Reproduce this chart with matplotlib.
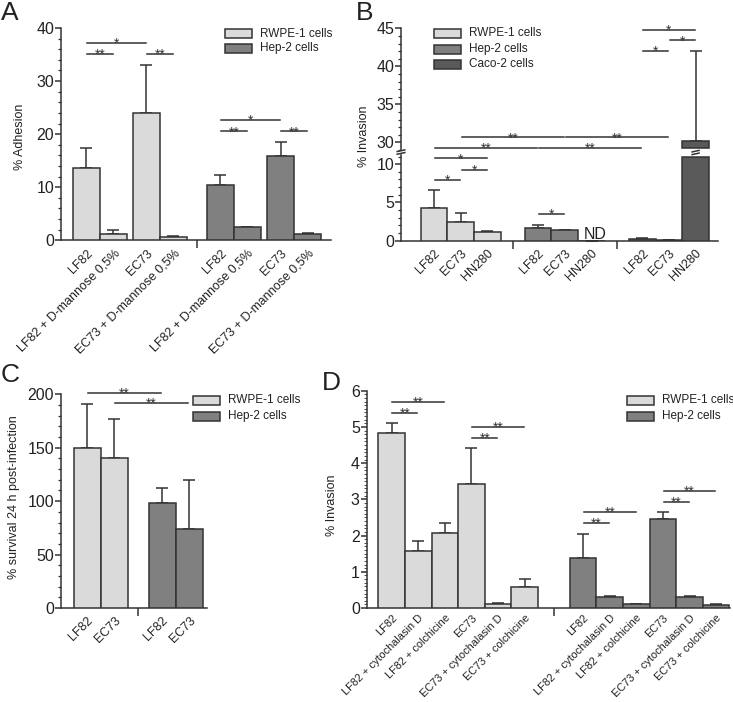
import numpy as np
import matplotlib
matplotlib.use('Agg')
import matplotlib.pyplot as plt
from matplotlib.patches import Rectangle
from matplotlib.ticker import MultipleLocator

plt.rcParams['font.family'] = ['Liberation Sans', 'DejaVu Sans']

W, H = 733, 702
LIGHT = '#dadada'
MID = '#808080'
DARK = '#5a5a5a'
INK = '#333333'

# ---- panel A : % adhesion
a_labels = ['LF82', 'LF82 + D-mannose 0,5%', 'EC73', 'EC73 + D-mannose 0,5%']
a_rwpe = [13.6, 1.1, 23.9, 0.7]
a_rwpe_sd = [3.8, 0.9, 9.1, 0.1]
a_hep = [10.4, 2.5, 15.9, 1.2]
a_hep_sd = [1.9, 0.1, 2.7, 0.1]
a_sig = [(0, 1, 35.1, '**'), (0, 2, 37.1, '*'), (2, 3, 35.1, '**'),
         (4, 5, 20.5, '**'), (4, 6, 22.6, '*'), (6, 7, 20.5, '**')]

# ---- panel B : % invasion (broken axis)
b_labels = ['LF82', 'EC73', 'HN280']
b_rwpe = [4.3, 2.4, 1.1]
b_rwpe_sd = [2.3, 1.2, 0.15]
b_hep = [1.7, 1.35, np.nan]
b_hep_sd = [0.4, 0.1, 0.0]
b_caco = [0.25, 0.12, 30.2]
b_caco_sd = [0.05, 0.0, 11.8]
b_sig_lo = [(0, 1, 7.95, '*'), (1, 2, 9.3, '*'), (0, 2, 10.75, '*'), (3, 4, 3.55, '*')]
b_sig_hi = [(0, 3, 29.27, '**'), (3, 6, 29.27, '**'), (1, 4, 30.65, '**'), (4, 7, 30.65, '**'),
            (6, 7, 42.0, '*'), (7, 8, 43.4, '*'), (6, 8, 44.8, '*')]

# ---- panel C : survival
c_labels = ['LF82', 'EC73']
c_rwpe = [150, 140]
c_rwpe_sd = [41, 37]
c_hep = [98, 74]
c_hep_sd = [14, 46]
c_sig = [(0, 2, 201.6, '**'), (1, 3, 191.6, '**')]

# ---- panel D : % invasion with inhibitors
d_labels = ['LF82', 'LF82 + cytochalasin D', 'LF82 + colchicine',
            'EC73', 'EC73 + cytochalasin D', 'EC73 + colchicine']
d_rwpe = [4.83, 1.57, 2.06, 3.43, 0.1, 0.59]
d_rwpe_sd = [0.28, 0.29, 0.29, 0.98, 0.03, 0.2]
d_hep = [1.38, 0.3, 0.1, 2.45, 0.3, 0.09]
d_hep_sd = [0.67, 0.04, 0.02, 0.19, 0.03, 0.01]
d_sig = [(0, 1, 5.39, '**'), (0, 2, 5.69, '**'), (3, 4, 4.69, '**'), (3, 5, 4.99, '**'),
         (6, 7, 2.35, '**'), (6, 8, 2.64, '**'), (9, 10, 2.94, '**'), (9, 11, 3.24, '**')]

fig = plt.figure(figsize=(W / 100, H / 100), dpi=100)


def px_axes(x0, y0, x1, y1):
    # axes placed by pixel box (top-left origin)
    return fig.add_axes([x0 / W, 1 - y1 / H, (x1 - x0) / W, (y1 - y0) / H])


def style(ax, xlim, ylim, major, minor, pos=None, labels=None, divs=(), bottom=True, xfs=9, xpad=5):
    ax.set_xlim(*xlim)
    ax.set_ylim(*ylim)
    ax.patch.set_alpha(0)
    for s in ['top', 'right']:
        ax.spines[s].set_visible(False)
    for s in ['left', 'bottom']:
        ax.spines[s].set_linewidth(1.1)
        ax.spines[s].set_color(INK)
    ax.yaxis.set_major_locator(MultipleLocator(major))
    ax.yaxis.set_minor_locator(MultipleLocator(minor))
    ax.tick_params(axis='y', which='major', length=4, width=1.1, color=INK, labelsize=11.5,
                   pad=1, labelcolor='#222222')
    ax.tick_params(axis='y', which='minor', length=2.4, width=0.9, color=INK)
    if bottom:
        ax.set_xticks(pos)
        ax.set_xticklabels(labels, rotation=45, ha='right', rotation_mode='anchor', fontsize=xfs,
                           color='#222222')
        ax.tick_params(axis='x', which='major', length=0, pad=xpad)
        ax.set_xticks(divs, minor=True)
        ax.tick_params(axis='x', which='minor', length=5.5, width=1.1, color=INK)
    else:
        ax.spines['bottom'].set_visible(False)
        ax.set_xticks([])


def bars(ax, pos, vals, sds, color):
    ax.bar(pos, vals, width=1.0, color=color, edgecolor=INK, linewidth=1.1, zorder=3)
    ax.errorbar(pos, vals, yerr=[np.zeros(len(vals)), sds], fmt='none', ecolor=INK,
                elinewidth=1.1, capsize=4.2, capthick=1.1, zorder=2)


def sig(ax, pos, items):
    for i, j, y, t in items:
        ax.plot([pos[i] + 0.03, pos[j] - 0.03], [y, y], color=INK, lw=1.1, clip_on=False, zorder=4)
        ax.annotate(t, ((pos[i] + pos[j]) / 2, y), xytext=(0, -3.5), textcoords='offset points',
                    ha='center', va='baseline', fontsize=10, color=INK, annotation_clip=False)


def legend(x, ycs, labels, colors):
    for yc, lab, c in zip(ycs, labels, colors):
        fig.add_artist(Rectangle((x / W, 1 - (yc + 4.5) / H), 27 / W, 9 / H, transform=fig.transFigure,
                                 facecolor=c, edgecolor=INK, lw=1.1))
        fig.text((x + 35) / W, 1 - yc / H, lab, ha='left', va='center', fontsize=8.5, color='#222222')


def ylabel(x, yc, text):
    fig.text(x / W, 1 - yc / H, text, rotation=90, ha='center', va='center', fontsize=9, color='#222222')


# ================= A
a_pos = [0, 1, 2.22, 3.22, 4.96, 5.96, 7.19, 8.19]
axA = px_axes(61, 28, 331, 240.3)
bars(axA, a_pos[:4], a_rwpe, a_rwpe_sd, LIGHT)
bars(axA, a_pos[4:], a_hep, a_hep_sd, MID)
sig(axA, a_pos, a_sig)
style(axA, (-0.944, 9.056), (0, 40), 10, 2, a_pos, a_labels * 2, [4.09])
legend(225, [33.7, 48], ['RWPE-1 cells', 'Hep-2 cells'], [LIGHT, MID])
ylabel(20, 137, '% Adhesion')

# ================= B
b_pos = [0, 1, 2, 3.9, 4.9, 5.9, 7.8, 8.8, 9.8]
lo_top, lo_cap, hi_floor = 11.2, 10.9, 29.27
axBh = px_axes(401, 28.3, 718, 150)
axBl = px_axes(401, 155, 718, 240.7)
bars(axBl, b_pos[0:3], b_rwpe, b_rwpe_sd, LIGHT)
bars(axBl, b_pos[3:6], np.nan_to_num(b_hep), b_hep_sd, MID)
caco = np.array(b_caco)
caco_sd = np.array(b_caco_sd)
tall = caco > lo_top
bars(axBl, np.array(b_pos[6:9])[~tall], caco[~tall], caco_sd[~tall], DARK)
axBl.bar(np.array(b_pos[6:9])[tall], lo_cap, width=1.0, color=DARK, edgecolor=INK, linewidth=1.1, zorder=3)
axBh.bar(np.array(b_pos[6:9])[tall], caco[tall] - hi_floor, bottom=hi_floor, width=1.0,
         color=DARK, edgecolor=INK, linewidth=1.1, zorder=3)
axBh.errorbar(np.array(b_pos[6:9])[tall], caco[tall], yerr=[np.zeros(tall.sum()), caco_sd[tall]],
              fmt='none', ecolor=INK, elinewidth=1.1, capsize=4.2, capthick=1.1, zorder=2)
axBl.text(b_pos[5] + 0.15, 0.2, 'ND', ha='center', va='baseline', fontsize=11.5, color='#222222')
sig(axBl, b_pos, b_sig_lo)
sig(axBh, b_pos, b_sig_hi)
style(axBh, (-1.24, 10.64), (29.0, 45), 5, 1, bottom=False)
style(axBl, (-1.24, 10.64), (0, lo_top), 5, 1, b_pos, b_labels * 3, [2.97, 6.87])
# break marks on axis and on the tall bar
tr = axBl.get_yaxis_transform()
for y0 in (11.3, 11.65):
    axBl.plot([-0.012, 0.012], [y0, y0 + 0.22], transform=tr, color=INK, lw=1.1, clip_on=False)
    for xc in np.array(b_pos[6:9])[tall]:
        axBl.plot([xc - 0.13, xc + 0.13], [y0 - 0.05, y0 + 0.15], color=INK, lw=1.1, clip_on=False)
legend(434, [33.3, 49, 64.3], ['RWPE-1 cells', 'Hep-2 cells', 'Caco-2 cells'], [LIGHT, MID, DARK])
ylabel(364, 136, '% Invasion')

# ================= C
c_pos = [0, 1, 2.78, 3.78]
axC = px_axes(61, 394.3, 206.7, 608)
bars(axC, c_pos[:2], c_rwpe, c_rwpe_sd, LIGHT)
bars(axC, c_pos[2:], c_hep, c_hep_sd, MID)
sig(axC, c_pos, c_sig)
style(axC, (-0.97, 4.43), (0, 200), 50, 10, c_pos, c_labels * 2, [1.89])
legend(193, [400, 416.5], ['RWPE-1 cells', 'Hep-2 cells'], [LIGHT, MID])
ylabel(14, 497, '% survival 24 h post-infection')

# ================= D
d_pos = [0, 1, 2, 3, 4, 5, 7.2, 8.2, 9.2, 10.2, 11.2, 12.2]
axD = px_axes(366.7, 390.7, 730, 608)
bars(axD, d_pos[:6], d_rwpe, d_rwpe_sd, LIGHT)
bars(axD, d_pos[6:], d_hep, d_hep_sd, MID)
sig(axD, d_pos, d_sig)
style(axD, (-0.94, 12.72), (0, 6), 1, 0.1, d_pos, d_labels * 2, [6.09], xfs=7.9, xpad=3.5)
axD.tick_params(axis='y', which='minor', length=2.4, width=0.6)
legend(627, [400, 416.5], ['RWPE-1 cells', 'Hep-2 cells'], [LIGHT, MID])
ylabel(332, 505, '% Invasion')

# panel letters
for x, y, t in [(1, 1, 'A'), (356, 1, 'B'), (1, 363, 'C'), (322, 371, 'D')]:
    fig.text(x / W, 1 - y / H, t, ha='left', va='top', fontsize=19, color='#222222')

fig.savefig('out.png', dpi=100)
